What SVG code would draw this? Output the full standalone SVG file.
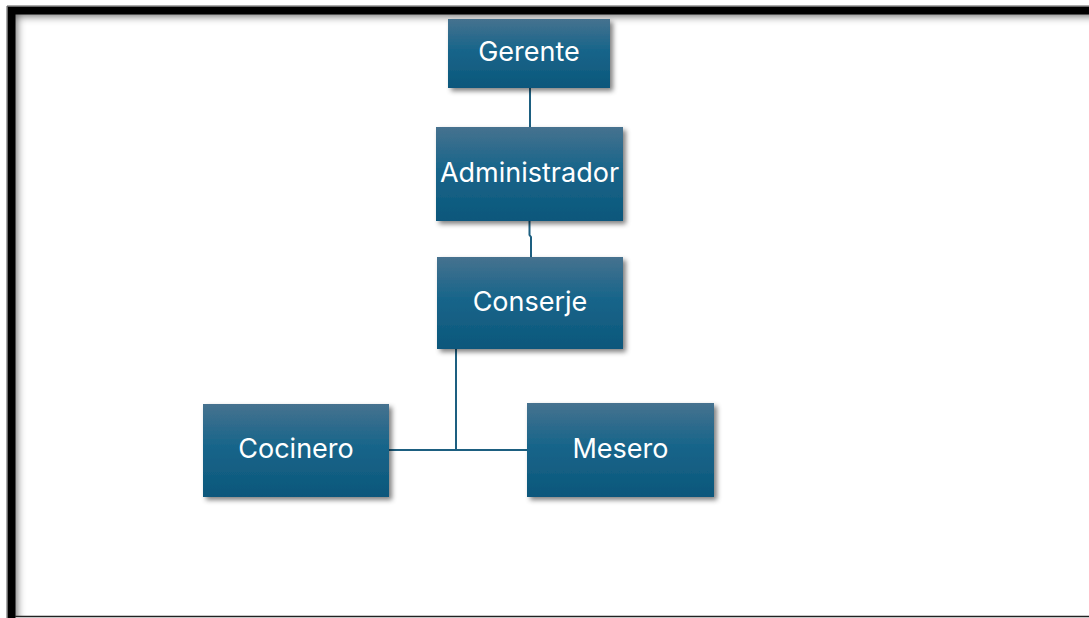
<svg xmlns="http://www.w3.org/2000/svg" width="1089" height="618" viewBox="0 0 1089 618">
  <defs>
    <linearGradient id="boxFill" x1="0" y1="0" x2="0" y2="1">
      <stop offset="0" stop-color="#46728f"/>
      <stop offset="0.45" stop-color="#18658a"/>
      <stop offset="1" stop-color="#0c577b"/>
    </linearGradient>
    <filter id="boxShadow" x="-10%" y="-10%" width="125%" height="130%">
      <feGaussianBlur in="SourceAlpha" stdDeviation="2.5"/>
      <feOffset dx="3" dy="3" result="blur"/>
      <feFlood flood-color="#000" flood-opacity="0.5"/>
      <feComposite in2="blur" operator="in"/>
      <feMerge>
        <feMergeNode/>
        <feMergeNode in="SourceGraphic"/>
      </feMerge>
    </filter>
    <filter id="frameShade" x="-5%" y="-5%" width="110%" height="110%">
      <feGaussianBlur stdDeviation="4"/>
    </filter>
    <clipPath id="inside">
      <rect x="15" y="14" width="1074" height="602"/>
    </clipPath>
  </defs>
  <style>
    .box { fill: url(#boxFill); filter: url(#boxShadow); }
    .label { fill: #ffffff; font-family: Inter, "Liberation Sans", sans-serif; font-size: 27px; text-anchor: middle; dominant-baseline: central; }
    .link { stroke: #1d5f80; stroke-width: 2; fill: none; }
  </style>

  <!-- page frame with soft inner shading -->
  <rect x="0" y="0" width="1089" height="618" fill="#ffffff"/>
  <g clip-path="url(#inside)">
    <path d="M11 10 H1100 M11 10 V630" stroke="#000" stroke-opacity="0.6" stroke-width="12" fill="none" filter="url(#frameShade)"/>
  </g>
  <path d="M11.5 630 V10.5 H1100" stroke="#000" stroke-width="8" fill="none"/>
  <path d="M7 630 V6 H1100" stroke="#555" stroke-width="1" fill="none"/>
  <line x1="15" y1="616.5" x2="1089" y2="616.5" stroke="#222" stroke-width="1.5"/>

  <!-- connectors -->
  <g id="connectors">
    <line class="link" x1="530" y1="88" x2="530" y2="127"/>
    <path class="link" d="M529.5 221 V235 L531 237 V257"/>
    <path class="link" d="M456 349 V450 M389 450 H527"/>
  </g>

  <g id="gerente">
    <rect class="box" x="448" y="19" width="162" height="69"/>
    <text class="label" x="529" y="51">Gerente</text>
  </g>
  <g id="administrador">
    <rect class="box" x="436" y="127" width="187" height="94"/>
    <text class="label" x="529.5" y="172">Administrador</text>
  </g>
  <g id="conserje">
    <rect class="box" x="437" y="257" width="186" height="92"/>
    <text class="label" x="530" y="301">Conserje</text>
  </g>
  <g id="cocinero">
    <rect class="box" x="203" y="404" width="186" height="93"/>
    <text class="label" x="296" y="448">Cocinero</text>
  </g>
  <g id="mesero">
    <rect class="box" x="527" y="403" width="187" height="94"/>
    <text class="label" x="620.5" y="448">Mesero</text>
  </g>
</svg>
